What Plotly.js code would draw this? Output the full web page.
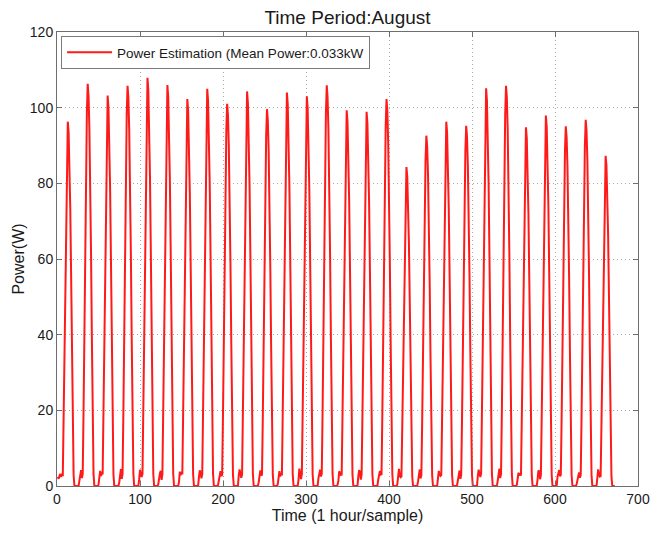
<!DOCTYPE html>
<html>
<head>
<meta charset="utf-8">
<script src="https://cdn.plot.ly/plotly-3.0.1.min.js"></script>
<style>html,body{margin:0;padding:0;background:#fff;}#chart{width:662px;height:536px;}</style>
</head>
<body>
<div id="chart"></div>
<script>
// Hourly power (W), one line per day
var week1 = [
  2.4,1.9,2.7,3.2,2.4,3.0, 2.9,18.3,38.5,59.7,77.0,89.6,96.3,93.4,85.7,73.2,55.9,35.6,16.4,2.9, 0,0,0,0,
  0,0,1.4,3.7,4.2,2.1, 3.2,20.2,42.5,65.9,85.0,98.9,106.3,103.1,94.6,80.8,61.7,39.3,18.1,3.2, 0,0,0,0,
  0,0.3,2.6,4.0,2.7,3.3, 3.1,19.6,41.3,64.0,82.6,96.0,103.2,100.1,91.8,78.4,59.9,38.2,17.5,3.1, 0,0,0,0,
  0,0,0.9,3.0,4.5,1.9, 3.2,20.1,42.3,65.6,84.6,98.4,105.8,102.6,94.2,80.4,61.4,39.1,18.0,3.2, 0,0,0,0,
  0,0,1.8,4.3,3.1,2.4, 3.2,20.5,43.2,66.9,86.3,100.3,107.9,104.7,96.0,82.0,62.6,39.9,18.3,3.2, 0,0,0,0,
  0,0.4,2.2,3.4,4.0,1.6, 3.2,20.1,42.4,65.7,84.8,98.6,106.0,102.8,94.3,80.6,61.5,39.2,18.0,3.2, 0,0,0,0,
  0,0,1.1,3.8,2.9,3.4, 3.1,19.4,40.9,63.4,81.8,95.1,102.3,99.2,91.0,77.7,59.3,37.9,17.4,3.1, 0,0,0,0
];
var week2 = [
  0,0,2.3,4.1,3.6,2.0, 3.2,20.0,42.0,65.1,84.0,97.7,105.0,101.9,93.5,79.8,60.9,38.9,17.9,3.2, 0,0,0,0,
  0,0.2,1.5,2.8,3.9,2.6, 3.0,19.2,40.4,62.6,80.8,93.9,101.0,98.0,89.9,76.8,58.6,37.4,17.2,3.0, 0,0,0,0,
  0,0,2.9,4.4,3.2,2.2, 3.1,19.8,41.7,64.7,83.4,97.0,104.3,101.2,92.8,79.3,60.5,38.6,17.7,3.1, 0,0,0,0,
  0,0,1.0,3.5,4.1,2.8, 3.0,18.9,39.8,61.8,79.7,92.6,99.6,96.6,88.6,75.7,57.8,36.9,16.9,3.0, 0,0,0,0,
  0,0.5,2.4,3.9,2.5,3.2, 3.1,19.8,41.6,64.5,83.2,96.7,104.0,100.9,92.6,79.0,60.3,38.5,17.7,3.1, 0,0,0,0,
  0,0,1.7,4.6,3.3,1.8, 3.1,19.6,41.2,63.9,82.4,95.8,103.0,99.9,91.7,78.3,59.7,38.1,17.5,3.1, 0,0,0,0,
  0,0,2.1,3.3,4.3,2.5, 3.2,20.1,42.4,65.7,84.7,98.5,105.9,102.7,94.3,80.5,61.4,39.2,18.0,3.2, 0,0,0,0
];
var week3 = [
  0,0.3,1.3,3.9,3.0,2.9, 3.0,18.9,39.7,61.6,79.4,92.3,99.3,96.3,88.4,75.5,57.6,36.7,16.9,3.0, 0,0,0,0,
  0,0,2.5,4.2,3.7,1.7, 3.0,18.8,39.6,61.3,79.1,92.0,98.9,95.9,88.0,75.2,57.4,36.6,16.8,3.0, 0,0,0,0,
  0,0,1.6,3.1,4.0,3.0, 3.1,19.4,40.9,63.4,81.8,95.1,102.3,99.2,91.0,77.7,59.3,37.9,17.4,3.1, 0,0,0,0,
  0,0.4,2.8,4.5,2.6,2.3, 2.5,16.0,33.7,52.3,67.4,78.4,84.3,81.8,75.0,64.1,48.9,31.2,14.3,2.5, 0,0,0,0,
  0,0,1.2,3.6,4.4,2.0, 2.8,17.6,37.0,57.4,74.1,86.1,92.6,89.8,82.4,70.4,53.7,34.3,15.7,2.8, 0,0,0,0,
  0,0,2.0,4.0,3.1,2.7, 2.9,18.3,38.5,59.7,77.0,89.6,96.3,93.4,85.7,73.2,55.9,35.6,16.4,2.9, 0,0,0,0,
  0,0.2,1.9,3.2,4.1,1.9, 2.9,18.1,38.1,59.0,76.2,88.5,95.2,92.3,84.7,72.4,55.2,35.2,16.2,2.9, 0,0,0,0
];
var week4 = [
  0,0,2.6,4.3,3.4,2.4, 3.2,20.0,42.0,65.2,84.1,97.7,105.1,101.9,93.5,79.9,61.0,38.9,17.9,3.2, 0,0,0,0,
  0,0,1.4,3.8,4.6,2.1, 3.2,20.1,42.3,65.6,84.6,98.4,105.8,102.6,94.2,80.4,61.4,39.1,18.0,3.2, 0,0,0,0,
  0,0.3,2.2,3.5,2.8,3.1, 2.8,18.0,37.9,58.8,75.8,88.2,94.8,92.0,84.4,72.0,55.0,35.1,16.1,2.8, 0,0,0,0,
  0,0,1.7,4.1,3.9,1.8, 2.9,18.6,39.2,60.7,78.3,91.0,97.9,95.0,87.1,74.4,56.8,36.2,16.6,2.9, 0,0,0,0,
  0,0,2.4,3.7,4.2,2.6, 2.9,18.1,38.0,59.0,76.1,88.4,95.1,92.2,84.6,72.3,55.2,35.2,16.2,2.9, 0,0,0,0,
  0,0.4,1.5,3.3,3.6,2.2, 2.9,18.4,38.7,60.0,77.4,90.0,96.8,93.9,86.2,73.6,56.1,35.8,16.5,2.9, 0,0,0,0,
  0,0,2.1,4.4,3.2,2.5, 2.6,16.6,34.9,54.1,69.8,81.2,87.3,84.7,77.7,66.3,50.6,32.3,14.8,2.6, 0,0,0,0
];
var xTicks = [0, 100, 200, 300, 400, 500, 600, 700];
var yTicks = [0, 20, 40, 60, 80, 100, 120];
var seriesName = 'Power Estimation (Mean Power:0.033kW';

var power = week1.concat(week2, week3, week4);
var hours = power.map(function (v, i) { return i + 1; });

var axisCommon = {
  showgrid: true, gridcolor: '#a8a8a8', griddash: '1px,3px', gridwidth: 1,
  zeroline: false, showline: true, linecolor: '#6e6e6e', linewidth: 1,
  mirror: 'allticks', ticks: 'inside', ticklen: 5, tickcolor: '#6e6e6e',
  tickfont: {size: 14, color: '#1a1a1a'}
};

var trace = {
  x: hours, y: power, type: 'scatter', mode: 'lines', name: seriesName,
  line: {color: '#ff1a1a', width: 2}
};

var layout = {
  width: 662, height: 536,
  margin: {l: 57, r: 24, t: 32, b: 50},
  paper_bgcolor: '#ffffff', plot_bgcolor: '#ffffff',
  font: {family: 'Liberation Sans, Arial, sans-serif', size: 14, color: '#1a1a1a'},
  title: {text: 'Time Period:August', font: {size: 19, color: '#1a1a1a'},
          x: 0.5, xref: 'paper', xanchor: 'center', y: 0.968, yref: 'container', yanchor: 'middle'},
  xaxis: Object.assign({}, axisCommon, {
    range: [0, 700], tickvals: xTicks, ticktext: xTicks.map(String),
    title: {text: 'Time (1 hour/sample)', font: {size: 16}, standoff: 4}
  }),
  yaxis: Object.assign({}, axisCommon, {
    range: [0, 120], tickvals: yTicks, ticktext: yTicks.map(String),
    title: {text: 'Power(W)', font: {size: 16}, standoff: 1}
  }),
  showlegend: true,
  legend: {x: 0.007, y: 0.991, xanchor: 'left', yanchor: 'top', bgcolor: '#ffffff',
           bordercolor: '#7a7a7a', borderwidth: 1, font: {size: 13.5},
           itemwidth: 45, tracegroupgap: 0}
};

Plotly.newPlot('chart', [trace], layout, {displayModeBar: false, staticPlot: true});
</script>
</body>
</html>
